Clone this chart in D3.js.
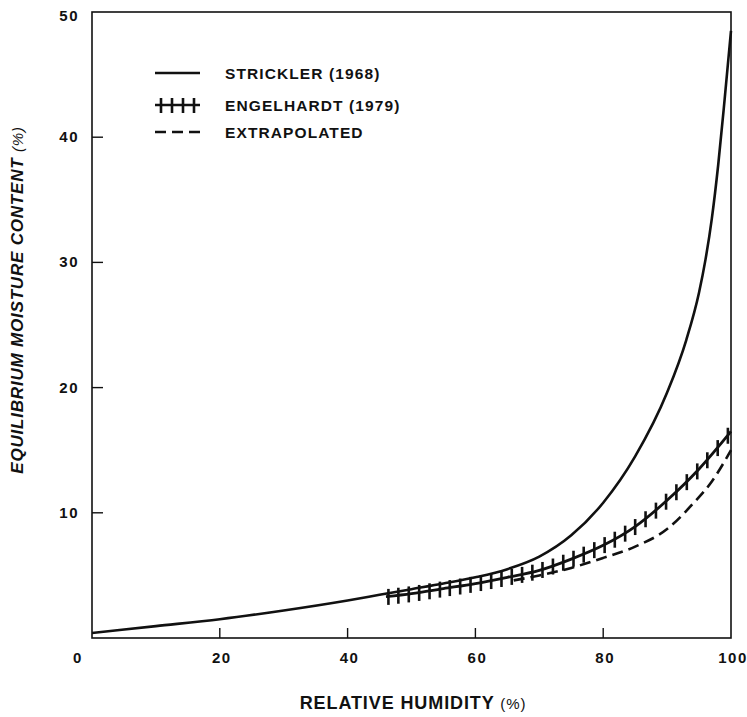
<!DOCTYPE html>
<html>
<head>
<meta charset="utf-8">
<script src="https://cdn.jsdelivr.net/npm/d3@7"></script>
<style>
  body { margin: 0; background: #fff; }
  text { font-family: "Liberation Sans", Arial, sans-serif; font-weight: bold; fill: #111; }
</style>
</head>
<body>
<svg id="chart" width="747" height="717"></svg>
<script>
// Strickler (1968)
const stricklerRH = [0, 10, 20, 30, 40, 45, 50, 55, 60, 65, 70, 75, 80, 85, 90, 93, 95, 96, 97, 98, 99, 100]
const stricklerEMC = [0.4, 0.95, 1.5, 2.2, 3.0, 3.45, 3.9, 4.35, 4.85, 5.5, 6.5, 8.2, 10.8, 14.5, 19.6, 23.8, 27.6, 30.2, 33.5, 37.8, 43, 48.5]

// Engelhardt (1979)
const engelhardtRH = [46, 50, 55, 60, 65, 70, 75, 80, 85, 90, 95, 100]
const engelhardtEMC = [3.3, 3.55, 3.95, 4.35, 4.85, 5.4, 6.3, 7.4, 8.9, 11.0, 13.5, 16.5]

// extrapolated
const extrapRH = [66, 70, 75, 80, 85, 90, 94, 97, 100]
const extrapEMC = [4.6, 5.0, 5.6, 6.4, 7.3, 8.7, 10.7, 12.5, 15.0]

const xTicks = [20, 40, 60, 80]
const xTickLabels = ["0", "20", "40", "60", "80", "100"]
const yTicks = [10, 20, 30, 40]
const yTickLabels = ["10", "20", "30", "40", "50"]

const legendLabels = ["STRICKLER (1968)", "ENGELHARDT (1979)", "EXTRAPOLATED"]

const svg = d3.select("#chart")
const x = d3.scaleLinear().domain([0, 100]).range([92, 731])
const y = d3.scaleLinear().domain([0, 50]).range([638, 12])

const ink = "#111"

// frame
svg.append("rect")
  .attr("x", x(0)).attr("y", y(50))
  .attr("width", x(100) - x(0)).attr("height", y(0) - y(50))
  .attr("fill", "none").attr("stroke", ink).attr("stroke-width", 1.6)

// inward ticks
svg.selectAll(".xt").data(xTicks).enter().append("line")
  .attr("x1", d => x(d)).attr("x2", d => x(d))
  .attr("y1", y(0)).attr("y2", y(0) - 10)
  .attr("stroke", ink).attr("stroke-width", 1.4)
svg.selectAll(".yt").data(yTicks).enter().append("line")
  .attr("x1", x(0)).attr("x2", x(0) + 11)
  .attr("y1", d => y(d)).attr("y2", d => y(d))
  .attr("stroke", ink).attr("stroke-width", 1.4)

// tick labels
svg.selectAll(".xl").data(xTickLabels).enter().append("text")
  .attr("x", d => d === "0" ? 78 : x(+d) + 2)
  .attr("y", 663)
  .attr("text-anchor", "middle")
  .attr("font-size", 15)
  .attr("letter-spacing", 1.5)
  .text(d => d)
svg.selectAll(".yl").data(yTickLabels).enter().append("text")
  .attr("x", 79)
  .attr("y", d => y(+d) + 5 + (d === "50" ? 4 : 0))
  .attr("text-anchor", "end")
  .attr("font-size", 15)
  .attr("letter-spacing", 1.5)
  .text(d => d)

// axis titles
const xTitle = svg.append("text")
  .attr("x", 413).attr("y", 709)
  .attr("text-anchor", "middle")
  .attr("font-size", 18)
  .attr("letter-spacing", 0.9)
xTitle.append("tspan").text("RELATIVE HUMIDITY ")
xTitle.append("tspan").attr("font-weight", "normal").attr("font-size", 15).text("(%)")

const yTitle = svg.append("text")
  .attr("transform", "translate(23,300) rotate(-90)")
  .attr("text-anchor", "middle")
  .attr("font-size", 17)
  .attr("letter-spacing", 0.8)
  .attr("font-style", "italic")
yTitle.append("tspan").text("EQUILIBRIUM MOISTURE CONTENT ")
yTitle.append("tspan").attr("font-weight", "normal").attr("font-size", 15).text("(%)")

// curves
const line = d3.line()
  .x(d => x(d[0]))
  .y(d => y(d[1]))
  .curve(d3.curveMonotoneX)

const stricklerData = d3.zip(stricklerRH, stricklerEMC)
const engelhardtData = d3.zip(engelhardtRH, engelhardtEMC)
const extrapData = d3.zip(extrapRH, extrapEMC)

svg.append("path")
  .attr("d", line(stricklerData))
  .attr("fill", "none").attr("stroke", ink).attr("stroke-width", 2.6)

svg.append("path")
  .attr("d", line(extrapData))
  .attr("fill", "none").attr("stroke", ink).attr("stroke-width", 2.6)
  .attr("stroke-dasharray", "11,6")

const engPath = svg.append("path")
  .attr("d", line(engelhardtData))
  .attr("fill", "none").attr("stroke", ink).attr("stroke-width", 2.8)

// hatch marks along Engelhardt curve, every ~10px in x
function hatch(pathNode, step, half) {
  const total = pathNode.getTotalLength()
  const marks = []
  let next = pathNode.getPointAtLength(0).x + 2
  for (let l = 0; l <= total; l += 0.5) {
    const p = pathNode.getPointAtLength(l)
    if (p.x >= next) {
      marks.push(p)
      next += step
    }
  }
  svg.selectAll(null).data(marks).enter().append("line")
    .attr("x1", d => d.x).attr("x2", d => d.x)
    .attr("y1", d => d.y - half).attr("y2", d => d.y + half + 1)
    .attr("stroke", ink).attr("stroke-width", 2.6)
}
hatch(engPath.node(), 10.3, 7.5)

// legend
const legend = svg.append("g")
const rows = [73, 105, 132]
rows.forEach((ry, i) => {
  const seg = legend.append("line")
    .attr("x1", 155).attr("x2", 200)
    .attr("y1", ry).attr("y2", ry)
    .attr("stroke", ink).attr("stroke-width", 2.6)
  if (i === 2) seg.attr("stroke-dasharray", "11,6")
  if (i === 1) {
    d3.range(4).forEach(k => {
      legend.append("line")
        .attr("x1", 161 + k * 11).attr("x2", 161 + k * 11)
        .attr("y1", ry - 7).attr("y2", ry + 8)
        .attr("stroke", ink).attr("stroke-width", 2.6)
    })
  }
  legend.append("text")
    .attr("x", 225).attr("y", ry + 6)
    .attr("font-size", 15.5)
    .attr("letter-spacing", 1.1)
    .text(legendLabels[i])
})
</script>
</body>
</html>
